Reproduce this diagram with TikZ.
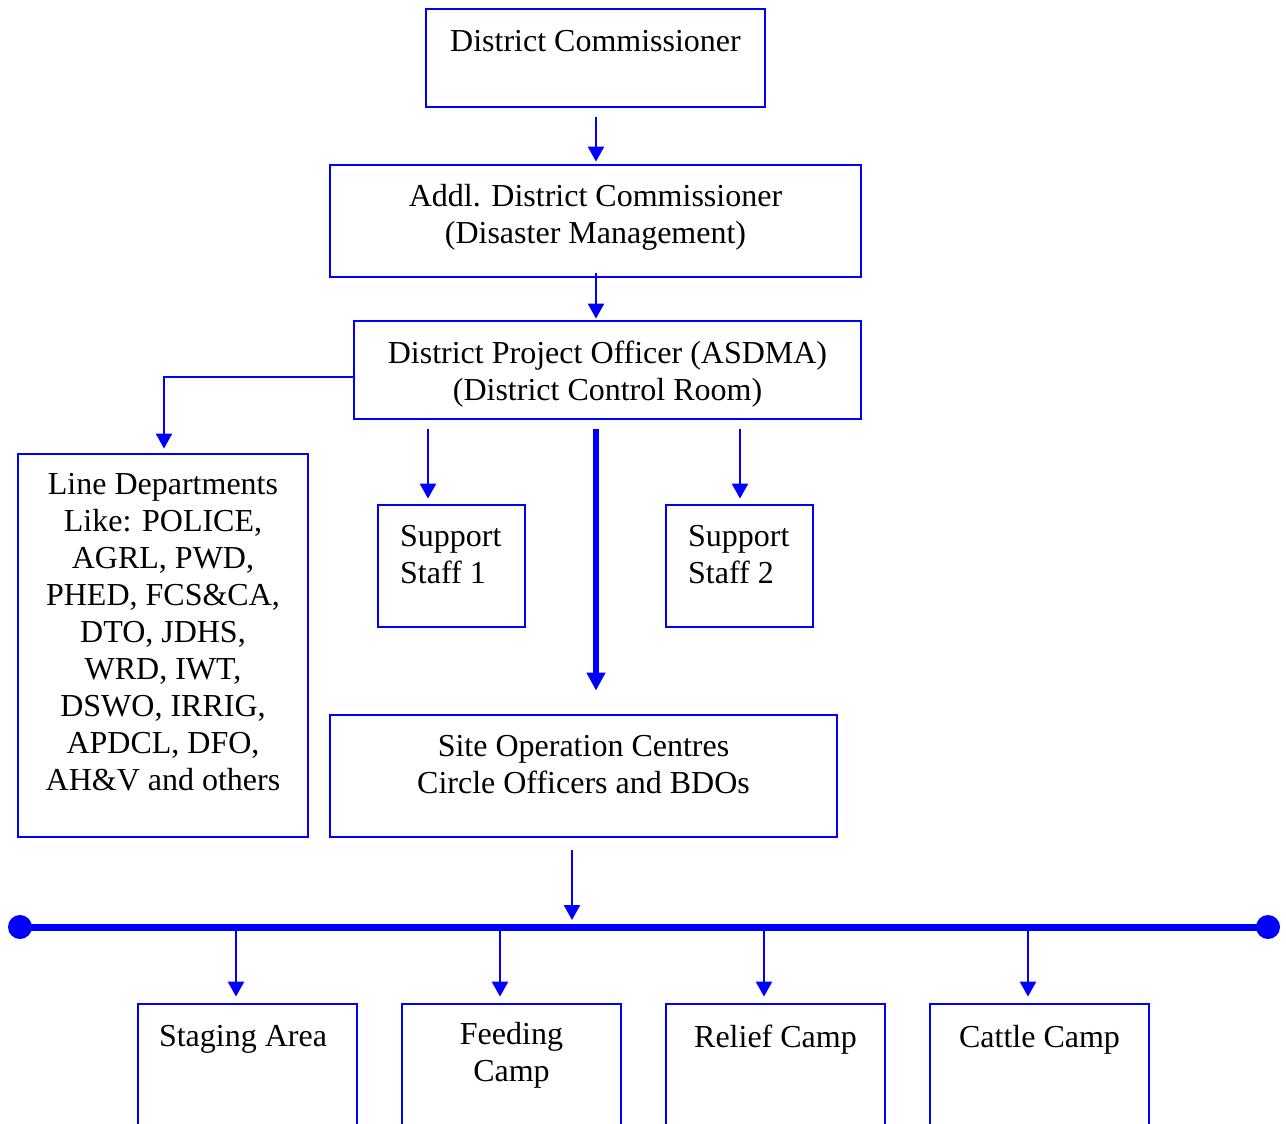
\documentclass[tikz,border=0pt]{standalone}
\usepackage{fontspec}
\setmainfont{Liberation Serif}
\usetikzlibrary{arrows.meta,calc}
\definecolor{bl}{RGB}{0,0,255}
\begin{document}
\begin{tikzpicture}[x=1pt,y=-1pt,
  box/.style={draw=bl, line width=2.8pt, inner sep=0pt, fill=white},
  txt/.style={font=\fontsize{32}{37}\selectfont, inner sep=0pt, align=center, anchor=north},
  txtl/.style={font=\fontsize{32}{37}\selectfont, inner sep=0pt, align=left, anchor=north west},
  arr/.style={draw=bl, line width=2.5pt, -{Triangle[length=15pt,width=16pt]}},
  thickarr/.style={draw=bl, line width=5.5pt, -{Triangle[length=18pt,width=18pt]}},
  conn/.style={draw=bl, line width=2.5pt},
  busbar/.style={draw=bl, line width=7pt}]
\clip (0,0) rectangle (1286,1124);
\fill[white] (0,0) rectangle (1286,1124);

% boxes
\node[box, minimum width=339pt, minimum height=98pt] (dc) at (595.5,58) {};
\node[box, minimum width=531pt, minimum height=112pt] (adc) at (595.5,221) {};
\node[box, minimum width=507pt, minimum height=98pt] (dpo) at (607.5,370) {};
\node[box, minimum width=290pt, minimum height=383pt] (ld) at (163,645.5) {};
\node[box, minimum width=147pt, minimum height=122pt] (ss1) at (451.5,566) {};
\node[box, minimum width=147pt, minimum height=122pt] (ss2) at (739.5,566) {};
\node[box, minimum width=507pt, minimum height=122pt] (soc) at (583.5,776) {};
\node[box, minimum width=219pt, minimum height=140pt] (sa) at (247.5,1074) {};
\node[box, minimum width=219pt, minimum height=140pt] (fc) at (511.5,1074) {};
\node[box, minimum width=219pt, minimum height=140pt] (rc) at (775.5,1074) {};
\node[box, minimum width=219pt, minimum height=140pt] (cc) at (1039.5,1074) {};

% texts
\node[txt] (dct) at (595.5,30) {District Commissioner};
\node[txt] (adct) at (595.5,184) {Addl. District Commissioner\\(Disaster Management)};
\node[txt] (dpot) at (607.5,341) {District Project Officer (ASDMA)\\(District Control Room)};
\node[txt] (ldt) at (163,473) {Line Departments\\Like: POLICE,\\AGRL, PWD,\\PHED, FCS\&CA,\\DTO, JDHS,\\WRD, IWT,\\DSWO, IRRIG,\\APDCL, DFO,\\AH\&V and others};
\node[txtl] (ss1t) at (400,525) {Support\\Staff 1};
\node[txtl] (ss2t) at (688,525) {Support\\Staff 2};
\node[txt] (soct) at (583.5,735) {Site Operation Centres\\Circle Officers and BDOs};
\node[txt] (sat) at (243,1025) {Staging Area};
\node[txt] (fct) at (511.5,1022) {Feeding\\Camp};
\node[txt] (rct) at (775.5,1025) {Relief Camp};
\node[txt] (cct) at (1039.5,1025) {Cattle Camp};

% connectors
\draw[arr, shorten <=9pt, shorten >=2pt] (dc.south -| 596,0) -- (adc.north -| 596,0);
\draw[arr, shorten <=-5pt, shorten >=1pt] (adc.south -| 596,0) -- (dpo.north -| 596,0);
\coordinate (ldl) at (354,377);
\draw[conn] (ldl) -| (164,440);
\draw[arr, shorten >=4pt] (164,435) -- (ld.north -| 164,0);
\draw[arr, shorten <=9pt, shorten >=5pt] (dpo.south -| 428,0) -- (ss1.north -| 428,0);
\draw[arr, shorten <=9pt, shorten >=5pt] (dpo.south -| 740,0) -- (ss2.north -| 740,0);
\draw[thickarr, shorten <=9pt, shorten >=23pt] (dpo.south -| 596,0) -- (soc.north -| 596,0);

\coordinate (barL) at (20,927);
\coordinate (barR) at (1268,927);
\draw[busbar] (barL) -- (barR);
\fill[bl] (barL) circle (12pt);
\fill[bl] (barR) circle (12pt);
\draw[arr, shorten <=12pt, shorten >=7pt] (soc.south -| 572,0) -- (barL -| 572,0);

\draw[arr, shorten >=6pt] (barL -| 236,0) -- (sa.north -| 236,0);
\draw[arr, shorten >=6pt] (barL -| 500,0) -- (fc.north -| 500,0);
\draw[arr, shorten >=6pt] (barL -| 764,0) -- (rc.north -| 764,0);
\draw[arr, shorten >=6pt] (barL -| 1028,0) -- (cc.north -| 1028,0);
\end{tikzpicture}
\end{document}
